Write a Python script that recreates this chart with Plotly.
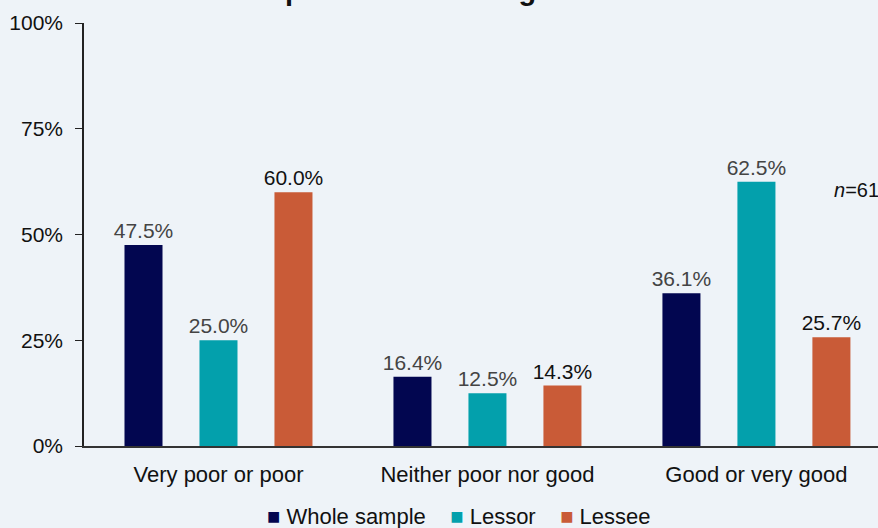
import plotly.graph_objects as go

categories = ["Very poor or poor", "Neither poor nor good", "Good or very good"]
series_names = ["Whole sample", "Lessor", "Lessee"]
whole_sample = [47.5, 16.4, 36.1]
lessor = [25.0, 12.5, 62.5]
lessee = [60.0, 14.3, 25.7]
y_ticks = [0, 25, 50, 75, 100]
y_tick_labels = ["0%", "25%", "50%", "75%", "100%"]

colors = ["#020650", "#03A0AC", "#C95B37"]
label_colors = ["#444444", "#444444", "#111111"]
bg = "#EEF3F8"
font_family = "Liberation Sans, Arial, sans-serif"

fig = go.Figure()
for name, vals, col, lcol in zip(series_names, [whole_sample, lessor, lessee], colors, label_colors):
    fig.add_trace(go.Bar(
        x=categories, y=vals, name=name,
        marker=dict(color=col, line=dict(width=0)),
        text=[f"{v:.1f}%" for v in vals],
        textposition="outside",
        constraintext="none",
        textfont=dict(family=font_family, size=21, color=lcol),
        cliponaxis=False,
        showlegend=False,
    ))

# Legend row: coloured square followed by the series name
nb = "\u00a0"
legend_text = (nb * 4).join(
    f"<span style='color:{c}'>■</span>{nb}{n}" for n, c in zip(series_names, colors)
)

fig.update_layout(
    width=878, height=528,
    paper_bgcolor=bg, plot_bgcolor=bg,
    margin=dict(l=84, r=0, t=23, b=82, autoexpand=False),
    barmode="group", bargap=0.1636, bargroupgap=0.493,
    xaxis=dict(range=[-0.5, 2.452], showline=True, linecolor="#333333", linewidth=1.5,
               ticks="", showgrid=False, zeroline=False, automargin=False,
               ticklabelstandoff=8,
               tickfont=dict(family=font_family, size=22, color="#111111")),
    yaxis=dict(range=[0, 100], tickvals=y_ticks, ticktext=y_tick_labels,
               showline=True, linecolor="#222222", linewidth=1.5,
               ticks="outside", ticklen=7, tickcolor="#222222",
               showgrid=False, zeroline=False, automargin=False,
               ticklabelstandoff=8,
               tickfont=dict(family=font_family, size=21, color="#111111")),
    annotations=[
        dict(text="<b>disputes or resolving conflict</b>", xref="paper", yref="paper",
             x=0.4547, y=1.036, xanchor="center", yanchor="bottom", showarrow=False,
             font=dict(family=font_family, size=29, color="#111111")),
        dict(text="<i>n</i>=61", xref="paper", yref="paper",
             x=0.942, y=0.605, xanchor="left", yanchor="middle", showarrow=False,
             font=dict(family=font_family, size=20, color="#111111")),
        dict(text=legend_text, xref="paper", yref="paper",
             x=0.4717, y=-0.167, xanchor="center", yanchor="middle", showarrow=False,
             font=dict(family=font_family, size=22, color="#111111")),
    ],
)

fig.write_html("out.html")
